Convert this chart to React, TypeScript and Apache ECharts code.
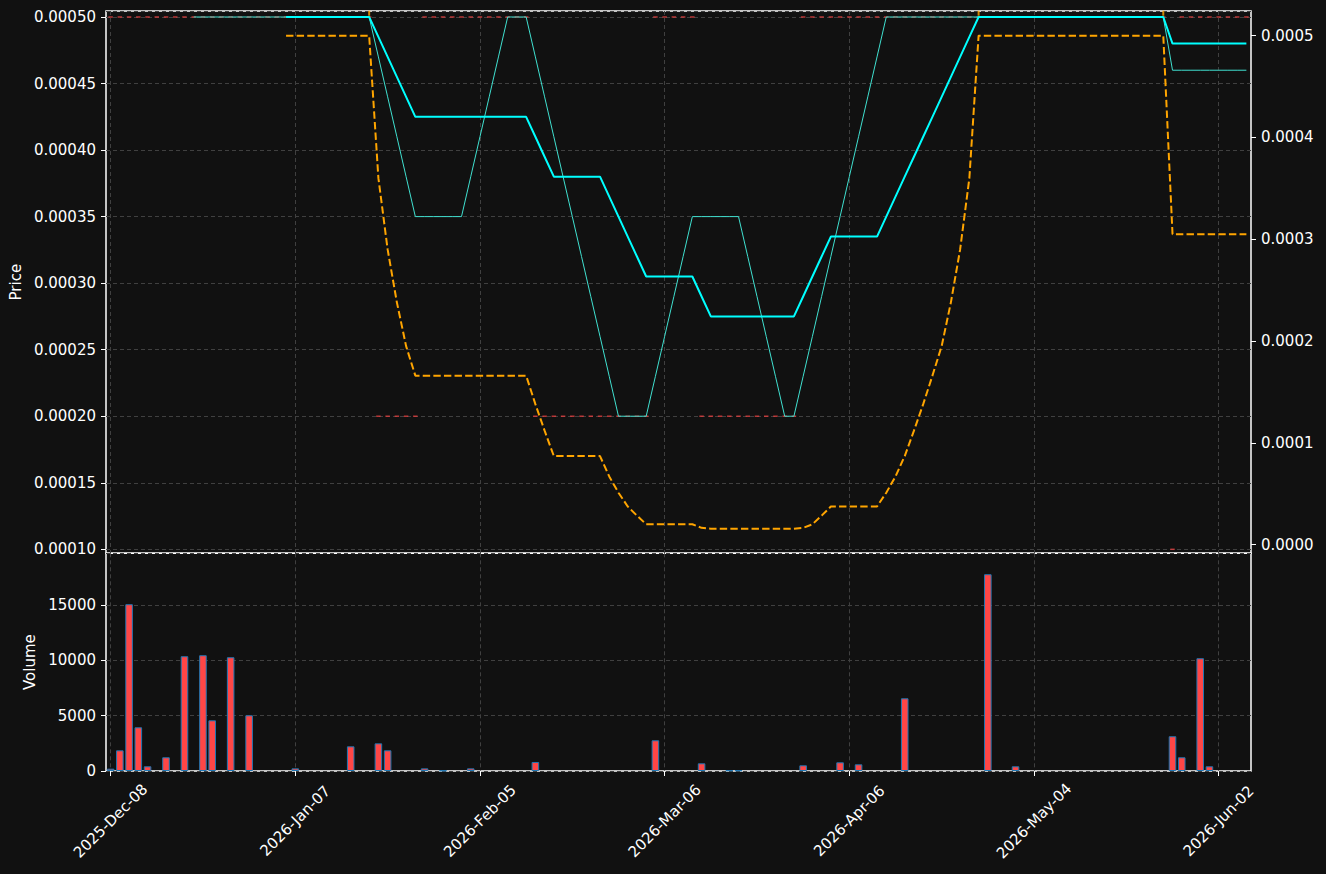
import React, { useEffect, useRef } from "react";
import * as echarts from "echarts";

// ---- categories: trading days (NYSE calendar) ----
const DEC_2025 = [8, 9, 10, 11, 12, 15, 16, 17, 18, 19, 22, 23, 24, 26, 29, 30, 31];
const JAN_2026 = [2, 5, 6, 7, 8, 9, 12, 13, 14, 15, 16, 20, 21, 22, 23, 26, 27, 28, 29, 30];
const FEB_2026 = [2, 3, 4, 5, 6, 9, 10, 11, 12, 13, 17, 18, 19, 20, 23, 24, 25, 26, 27];
const MAR_2026 = [2, 3, 4, 5, 6, 9, 10, 11, 12, 13, 16, 17, 18, 19, 20, 23, 24, 25, 26, 27, 30, 31];
const APR_2026 = [1, 2, 6, 7, 8, 9, 10, 13, 14, 15, 16, 17, 20, 21, 22, 23, 24, 27, 28, 29, 30];
const MAY_2026 = [1, 4, 5, 6, 7, 8, 11, 12, 13, 14, 15, 18, 19, 20, 21, 22, 26, 27, 28, 29];
const JUN_2026 = [1, 2, 3, 4, 5];

const pad = (d: number) => (d < 10 ? "0" + d : "" + d);
const dates: string[] = [
  ...DEC_2025.map((d) => "2025-Dec-" + pad(d)),
  ...JAN_2026.map((d) => "2026-Jan-" + pad(d)),
  ...FEB_2026.map((d) => "2026-Feb-" + pad(d)),
  ...MAR_2026.map((d) => "2026-Mar-" + pad(d)),
  ...APR_2026.map((d) => "2026-Apr-" + pad(d)),
  ...MAY_2026.map((d) => "2026-May-" + pad(d)),
  ...JUN_2026.map((d) => "2026-Jun-" + pad(d)),
];

// ---- close price (flat candles) ----
const close = [
  0.0005, 0.0005, 0.0005, 0.0005, 0.0005, 0.0005, 0.0005, 0.0005, 0.0005, 0.0005,
  0.0005, 0.0005, 0.0005, 0.0005, 0.0005, 0.0005, 0.0005, 0.0005, 0.0005, 0.0005,
  0.0005, 0.0005, 0.0005, 0.0005, 0.0005, 0.0005, 0.0005, 0.0005, 0.0005, 0.0002,
  0.0002, 0.0002, 0.0002, 0.0002, 0.0005, 0.0005, 0.0005, 0.0005, 0.0005, 0.0005,
  0.0005, 0.0005, 0.0005, 0.0005, 0.0005, 0.0005, 0.0002, 0.0002, 0.0002, 0.0002,
  0.0002, 0.0002, 0.0002, 0.0002, 0.0002, 0.0002, 0.0002, 0.0002, 0.0002, 0.0005,
  0.0005, 0.0005, 0.0005, 0.0005, 0.0002, 0.0002, 0.0002, 0.0002, 0.0002, 0.0002,
  0.0002, 0.0002, 0.0002, 0.0002, 0.0002, 0.0005, 0.0005, 0.0005, 0.0005, 0.0005,
  0.0005, 0.0005, 0.0005, 0.0005, 0.0005, 0.0005, 0.0005, 0.0005, 0.0005, 0.0005,
  0.0005, 0.0005, 0.0005, 0.0005, 0.0005, 0.0005, 0.0005, 0.0005, 0.0005, 0.0005,
  0.0005, 0.0005, 0.0005, 0.0005, 0.0005, 0.0005, 0.0005, 0.0005, 0.0005, 0.0005,
  0.0005, 0.0005, 0.0005, 0.0005, 0.0005, 0.0001, 0.0005, 0.0005, 0.0005, 0.0005,
  0.0005, 0.0005, 0.0005, 0.0005,
];

// ---- 10-period average (thin turquoise) ----
const ma10 = [
  null, null, null, null, null, null, null, null, null, 0.0005,
  0.0005, 0.0005, 0.0005, 0.0005, 0.0005, 0.0005, 0.0005, 0.0005, 0.0005, 0.0005,
  0.0005, 0.0005, 0.0005, 0.0005, 0.0005, 0.0005, 0.0005, 0.0005, 0.0005, 0.00047,
  0.00044, 0.00041, 0.00038, 0.00035, 0.00035, 0.00035, 0.00035, 0.00035, 0.00035, 0.00038,
  0.00041, 0.00044, 0.00047, 0.0005, 0.0005, 0.0005, 0.00047, 0.00044, 0.00041, 0.00038,
  0.00035, 0.00032, 0.00029, 0.00026, 0.00023, 0.0002, 0.0002, 0.0002, 0.0002, 0.00023,
  0.00026, 0.00029, 0.00032, 0.00035, 0.00035, 0.00035, 0.00035, 0.00035, 0.00035, 0.00032,
  0.00029, 0.00026, 0.00023, 0.0002, 0.0002, 0.00023, 0.00026, 0.00029, 0.00032, 0.00035,
  0.00038, 0.00041, 0.00044, 0.00047, 0.0005, 0.0005, 0.0005, 0.0005, 0.0005, 0.0005,
  0.0005, 0.0005, 0.0005, 0.0005, 0.0005, 0.0005, 0.0005, 0.0005, 0.0005, 0.0005,
  0.0005, 0.0005, 0.0005, 0.0005, 0.0005, 0.0005, 0.0005, 0.0005, 0.0005, 0.0005,
  0.0005, 0.0005, 0.0005, 0.0005, 0.0005, 0.00046, 0.00046, 0.00046, 0.00046, 0.00046,
  0.00046, 0.00046, 0.00046, 0.00046,
];

// ---- 20-period average (thick cyan) ----
const ma20 = [
  null, null, null, null, null, null, null, null, null, null,
  null, null, null, null, null, null, null, null, null, 0.0005,
  0.0005, 0.0005, 0.0005, 0.0005, 0.0005, 0.0005, 0.0005, 0.0005, 0.0005, 0.000485,
  0.00047, 0.000455, 0.00044, 0.000425, 0.000425, 0.000425, 0.000425, 0.000425, 0.000425, 0.000425,
  0.000425, 0.000425, 0.000425, 0.000425, 0.000425, 0.000425, 0.00041, 0.000395, 0.00038, 0.00038,
  0.00038, 0.00038, 0.00038, 0.00038, 0.000365, 0.00035, 0.000335, 0.00032, 0.000305, 0.000305,
  0.000305, 0.000305, 0.000305, 0.000305, 0.00029, 0.000275, 0.000275, 0.000275, 0.000275, 0.000275,
  0.000275, 0.000275, 0.000275, 0.000275, 0.000275, 0.00029, 0.000305, 0.00032, 0.000335, 0.000335,
  0.000335, 0.000335, 0.000335, 0.000335, 0.00035, 0.000365, 0.00038, 0.000395, 0.00041, 0.000425,
  0.00044, 0.000455, 0.00047, 0.000485, 0.0005, 0.0005, 0.0005, 0.0005, 0.0005, 0.0005,
  0.0005, 0.0005, 0.0005, 0.0005, 0.0005, 0.0005, 0.0005, 0.0005, 0.0005, 0.0005,
  0.0005, 0.0005, 0.0005, 0.0005, 0.0005, 0.00048, 0.00048, 0.00048, 0.00048, 0.00048,
  0.00048, 0.00048, 0.00048, 0.00048,
];

// ---- secondary indicator (orange dashed, right axis) ----
const indicator = [
  null, null, null, null, null, null, null, null, null, null,
  null, null, null, null, null, null, null, null, null, 0.0005,
  0.0005, 0.0005, 0.0005, 0.0005, 0.0005, 0.0005, 0.0005, 0.0005, 0.0005, 0.00036,
  0.00029, 0.000238, 0.000195, 0.000166, 0.000166, 0.000166, 0.000166, 0.000166, 0.000166, 0.000166,
  0.000166, 0.000166, 0.000166, 0.000166, 0.000166, 0.000166, 0.000138, 0.000112, 0.000087, 0.000087,
  0.000087, 0.000087, 0.000087, 0.000087, 0.000067, 0.000051, 0.0000375, 0.0000285, 0.00002, 0.00002,
  0.00002, 0.00002, 0.00002, 0.00002, 0.0000165, 0.0000157, 0.0000157, 0.0000157, 0.0000157, 0.0000157,
  0.0000157, 0.0000157, 0.0000157, 0.0000157, 0.0000157, 0.0000165, 0.00002, 0.0000285, 0.0000375, 0.0000375,
  0.0000375, 0.0000375, 0.0000375, 0.0000375, 0.000051, 0.000067, 0.000087, 0.000112, 0.000138, 0.000166,
  0.000195, 0.000238, 0.00029, 0.00036, 0.0005, 0.0005, 0.0005, 0.0005, 0.0005, 0.0005,
  0.0005, 0.0005, 0.0005, 0.0005, 0.0005, 0.0005, 0.0005, 0.0005, 0.0005, 0.0005,
  0.0005, 0.0005, 0.0005, 0.0005, 0.0005, 0.000305, 0.000305, 0.000305, 0.000305, 0.000305,
  0.000305, 0.000305, 0.000305, 0.000305,
];

// small orange marks at the top edge
const indicatorMarkIdx = [28, 94, 114];
const indicatorMarkValue = 0.000522;

// ---- volume ----
const volume = [
  210, 1870, 15070, 3950, 425, 0, 1240, 0, 10370, 0,
  10460, 4580, 0, 10280, 0, 5035, 0, 0, 0, 0,
  240, 0, 0, 0, 0, 0, 2230, 0, 0, 2500,
  1870, 0, 0, 0, 240, 0, 50, 0, 0, 240,
  0, 0, 0, 0, 0, 0, 815, 0, 0, 0,
  0, 0, 0, 0, 0, 0, 0, 0, 0, 2775,
  0, 0, 0, 0, 695, 0, 0, 60, 60, 0,
  0, 0, 0, 0, 0, 515, 0, 0, 0, 785,
  0, 605, 0, 0, 0, 0, 6570, 0, 0, 0,
  0, 0, 0, 0, 0, 17780, 0, 0, 425, 0,
  0, 0, 0, 0, 0, 0, 0, 0, 0, 0,
  0, 0, 0, 0, 0, 3140, 1240, 0, 10190, 425,
  0, 0, 0, 0,
];

const FONT = "DejaVu Sans";
const TEXT = "#ffffff";
const FS = 15;
const GRID_LINE = { color: "#404040", type: [4, 3] as any, width: 1 };
const TICK = { color: "#ffffff", width: 1 };

function buildOption(): any {
  const labelStyle = { color: TEXT, fontSize: FS, fontFamily: FONT };
  return {
    animation: false,
    backgroundColor: "#111111",
    textStyle: { fontFamily: FONT },
    grid: [
      { left: 106, top: 11, width: 1145, height: 542.3, show: true, borderColor: "#ffffff", borderWidth: 1.5 },
      { left: 106, top: 553.3, width: 1145, height: 217.7, show: true, borderColor: "#ffffff", borderWidth: 1.5 },
    ],
    xAxis: [
      {
        type: "category",
        gridIndex: 0,
        data: dates,
        boundaryGap: true,
        axisLine: { show: false },
        axisTick: { show: false, interval: 19, alignWithLabel: true },
        axisLabel: { show: false, interval: 19 },
        splitLine: { show: true, interval: 19, alignWithLabel: true, lineStyle: GRID_LINE },
      },
      {
        type: "category",
        gridIndex: 1,
        data: dates,
        boundaryGap: true,
        axisLine: { show: false },
        axisTick: { show: true, interval: 19, alignWithLabel: true, length: 5, lineStyle: TICK },
        axisLabel: {
          ...labelStyle,
          interval: 19,
          rotate: 45,
          align: "center",
          verticalAlign: "middle",
          margin: 50,
        },
        splitLine: { show: true, interval: 19, alignWithLabel: true, lineStyle: GRID_LINE },
      },
    ],
    yAxis: [
      {
        type: "value",
        gridIndex: 0,
        position: "left",
        min: 0.000097,
        max: 0.0005045,
        splitNumber: 8,
        minInterval: 0.00005,
        maxInterval: 0.00005,
        name: "Price",
        nameLocation: "middle",
        nameGap: 77,
        nameTextStyle: { color: TEXT, fontSize: FS, fontFamily: FONT },
        axisLine: { show: false },
        axisTick: { show: true, length: 5, lineStyle: TICK },
        axisLabel: {
          ...labelStyle,
          margin: 10,
          showMinLabel: false,
          showMaxLabel: false,
          formatter: (v: number) => v.toFixed(5),
        },
        splitLine: { show: true, lineStyle: GRID_LINE },
      },
      {
        type: "value",
        gridIndex: 0,
        position: "right",
        min: -0.0000085,
        max: 0.0005242,
        splitNumber: 5,
        minInterval: 0.0001,
        maxInterval: 0.0001,
        axisLine: { show: false },
        axisTick: { show: true, length: 5, lineStyle: TICK },
        axisLabel: {
          ...labelStyle,
          margin: 10,
          showMinLabel: false,
          showMaxLabel: false,
          formatter: (v: number) => v.toFixed(4),
        },
        splitLine: { show: false },
      },
      {
        type: "value",
        gridIndex: 1,
        position: "left",
        min: 0,
        max: 19670,
        interval: 5000,
        name: "Volume",
        nameLocation: "middle",
        nameGap: 64,
        nameTextStyle: { color: TEXT, fontSize: FS, fontFamily: FONT },
        axisLine: { show: false },
        axisTick: { show: true, length: 5, lineStyle: TICK },
        axisLabel: {
          ...labelStyle,
          margin: 10,
          showMaxLabel: false,
          formatter: (v: number) => String(Math.round(v)),
        },
        splitLine: { show: true, lineStyle: GRID_LINE },
      },
    ],
    series: [
      {
        name: "Close",
        type: "scatter",
        xAxisIndex: 0,
        yAxisIndex: 0,
        symbol: "rect",
        symbolSize: [4.5, 1.5],
        itemStyle: { color: "#e04040" },
        silent: true,
        data: close.map((v, i) => [i, v]),
      },
      {
        name: "MA10",
        type: "line",
        xAxisIndex: 0,
        yAxisIndex: 0,
        showSymbol: false,
        silent: true,
        lineStyle: { color: "#40e0d0", width: 1 },
        data: ma10,
      },
      {
        name: "MA20",
        type: "line",
        xAxisIndex: 0,
        yAxisIndex: 0,
        showSymbol: false,
        silent: true,
        lineStyle: { color: "#00ffff", width: 2 },
        data: ma20,
      },
      {
        name: "Indicator",
        type: "line",
        xAxisIndex: 0,
        yAxisIndex: 1,
        showSymbol: false,
        silent: true,
        lineStyle: { color: "#ffa500", width: 2, type: [7.4, 3.2] },
        data: indicator,
      },
      {
        name: "IndicatorMarks",
        type: "scatter",
        xAxisIndex: 0,
        yAxisIndex: 1,
        symbol: "rect",
        symbolSize: [2, 5],
        itemStyle: { color: "#ffa500" },
        silent: true,
        data: indicatorMarkIdx.map((i) => [i, indicatorMarkValue]),
      },
      {
        name: "Volume",
        type: "bar",
        xAxisIndex: 1,
        yAxisIndex: 2,
        barWidth: "82%",
        silent: true,
        itemStyle: { color: "#ff4646", borderColor: "#1f77b4", borderWidth: 1 },
        data: volume.map((v) => (v === 0 ? "-" : v)),
      },
    ],
  };
}

export default function App() {
  const ref = useRef<HTMLDivElement>(null);
  useEffect(() => {
    if (!ref.current) return;
    const chart = echarts.init(ref.current, null, { renderer: "svg" });
    chart.setOption(buildOption());
    return () => chart.dispose();
  }, []);
  return (
    <div
      ref={ref}
      style={{ position: "fixed", left: 0, top: 0, width: 1326, height: 874, background: "#111111" }}
    />
  );
}
